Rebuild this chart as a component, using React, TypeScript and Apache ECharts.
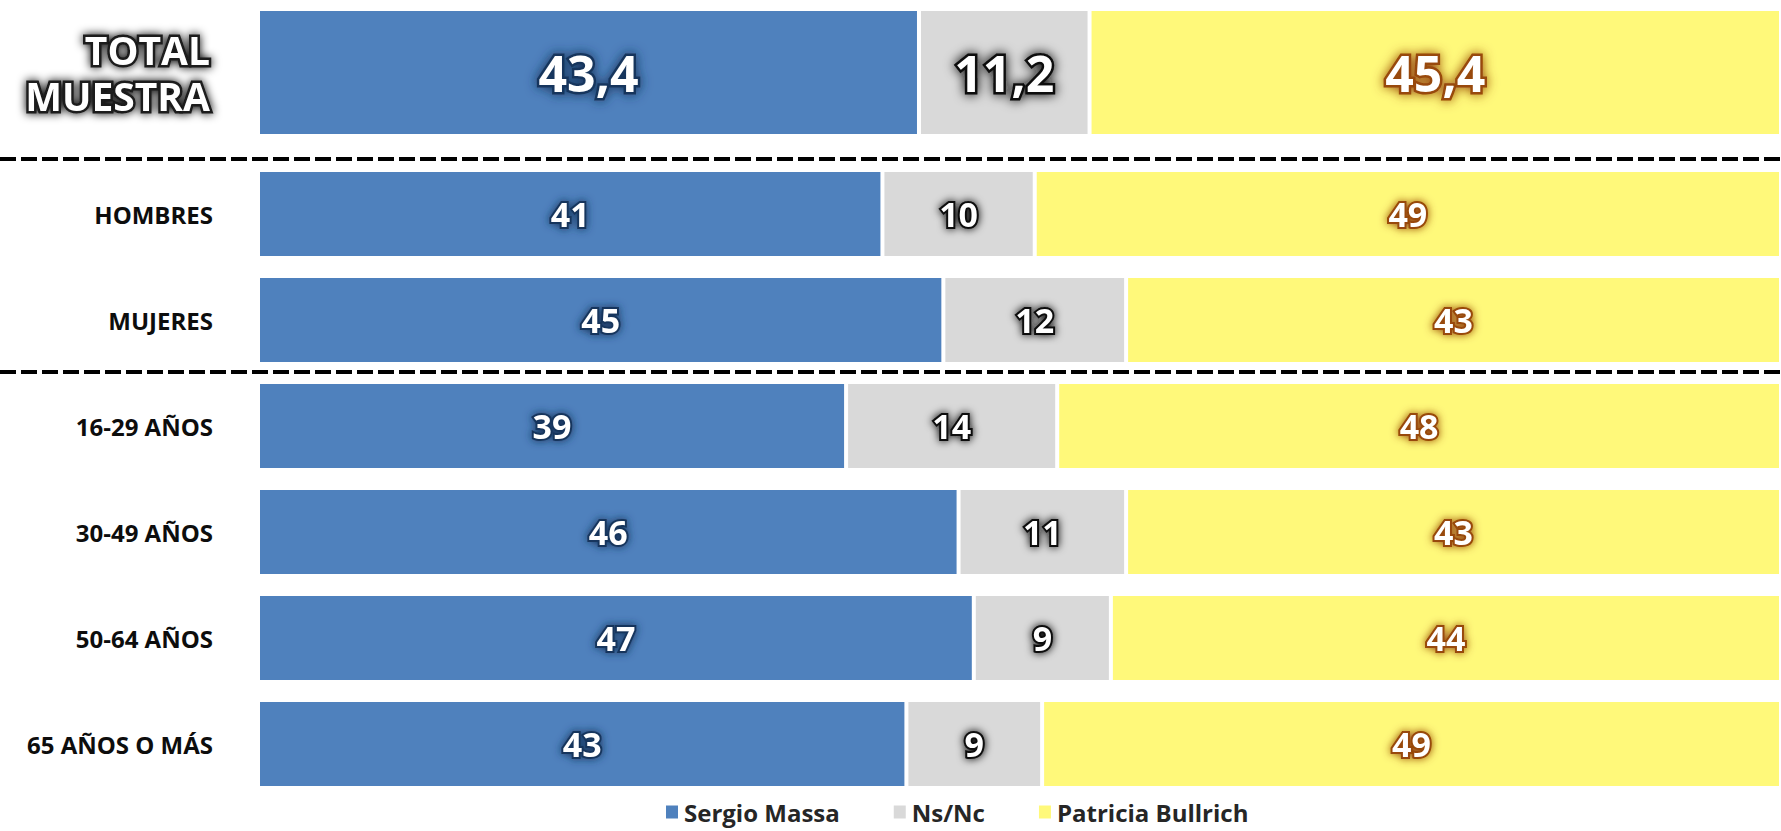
import React, { useEffect, useRef } from "react";
import * as echarts from "echarts";

// ---- Data ----
const totalCategories = ["TOTAL\nMUESTRA"];
const totalMassa = [43.4];
const totalNsNc = [11.2];
const totalBullrich = [45.4];

const groupCategories = ["HOMBRES", "MUJERES", "16-29 AÑOS", "30-49 AÑOS", "50-64 AÑOS", "65 AÑOS O MÁS"];
const groupMassa = [41, 45, 39, 46, 47, 43];
const groupNsNc = [10, 12, 14, 11, 9, 9];
const groupBullrich = [49, 43, 48, 43, 44, 49];

const seriesNames = ["Sergio Massa", "Ns/Nc", "Patricia Bullrich"];
const seriesColors = ["#4F81BD", "#D9D9D9", "#FFF97A"];
const glowColors = ["#17365D", "#0a0a0a", "#984807"];

const FONT = "'Open Sans', 'Noto Sans', sans-serif";

function toPercentData(parts: number[][], idx: number) {
  // 100% stacked: normalize each row to its sum, keep raw value for label
  return parts[idx].map((v, i) => {
    const sum = parts[0][i] + parts[1][i] + parts[2][i];
    return { value: (v / sum) * 100, raw: v };
  });
}

export default function App() {
  const ref = useRef<HTMLDivElement>(null);

  useEffect(() => {
    if (!ref.current) return;
    const chart = echarts.init(ref.current, null, { renderer: "svg" });

    const totalParts = [totalMassa, totalNsNc, totalBullrich];
    const groupParts = [groupMassa, groupNsNc, groupBullrich];

    const makeSeries = (grid: number, parts: number[][], barWidth: number, fontSize: number, decimals: boolean) =>
      seriesNames.map((name, k) => ({
        name,
        type: "bar",
        stack: "s" + grid,
        xAxisIndex: grid,
        yAxisIndex: grid,
        barWidth,
        data: toPercentData(parts, k),
        itemStyle: { color: seriesColors[k], borderColor: "#ffffff", borderWidth: 2 },
        label: {
          show: true,
          position: "inside",
          formatter: (p: any) =>
            decimals ? p.data.raw.toFixed(1).replace(".", ",") : String(p.data.raw),
          color: "#ffffff",
          fontFamily: FONT,
          fontWeight: "bold",
          fontSize,
          textBorderColor: glowColors[k],
          textBorderWidth: decimals ? 5 : 4,
          textShadowColor: glowColors[k],
          textShadowBlur: decimals ? 12 : 8,
        },
        emphasis: { disabled: true },
      }));

    const option: any = {
      animation: false,
      backgroundColor: "#ffffff",
      grid: [
        { left: 258, right: 0, top: 9, height: 127 },
        { left: 258, right: 0, top: 161, height: 636 },
      ],
      xAxis: [
        { type: "value", gridIndex: 0, min: 0, max: 100, show: false },
        { type: "value", gridIndex: 1, min: 0, max: 100, show: false },
      ],
      yAxis: [
        {
          type: "category",
          gridIndex: 0,
          inverse: true,
          data: totalCategories,
          axisLine: { show: false },
          axisTick: { show: false },
          axisLabel: {
            margin: 48,
            align: "right",
            color: "#ffffff",
            fontFamily: FONT,
            fontWeight: "bold",
            fontSize: 39,
            lineHeight: 46,
            padding: [10, 0, 0, 0],
            textBorderColor: "#1a1a1a",
            textBorderWidth: 5,
            textShadowColor: "#000000",
            textShadowBlur: 10,
          },
        },
        {
          type: "category",
          gridIndex: 1,
          inverse: true,
          data: groupCategories,
          axisLine: { show: false },
          axisTick: { show: false },
          axisLabel: {
            margin: 45,
            align: "right",
            color: "#0d0d0d",
            fontFamily: FONT,
            fontWeight: "bold",
            fontSize: 24,
          },
        },
      ],
      legend: {
        data: seriesNames,
        left: 664,
        top: 800,
        padding: 0,
        itemWidth: 14,
        itemHeight: 15,
        itemGap: 52,
        icon: "rect",
        selectedMode: false,
        textStyle: {
          color: "#262626",
          fontFamily: FONT,
          fontWeight: "bold",
          fontSize: 24,
          lineHeight: 24,
        },
      },
      graphic: [
        {
          type: "line",
          shape: { x1: 0, y1: 159, x2: 1781, y2: 159 },
          style: { stroke: "#000000", lineWidth: 4, lineDash: [16, 5] },
          silent: true,
        },
        {
          type: "line",
          shape: { x1: 0, y1: 372, x2: 1781, y2: 372 },
          style: { stroke: "#000000", lineWidth: 4, lineDash: [16, 5] },
          silent: true,
        },
      ],
      series: [
        ...makeSeries(0, totalParts, 127, 50, true),
        ...makeSeries(1, groupParts, 88, 34, false),
      ],
    };

    chart.setOption(option);
    return () => chart.dispose();
  }, []);

  return (
    <div
      ref={ref}
      style={{ position: "fixed", left: 0, top: 0, width: 1781, height: 831, background: "#fff" }}
    />
  );
}
